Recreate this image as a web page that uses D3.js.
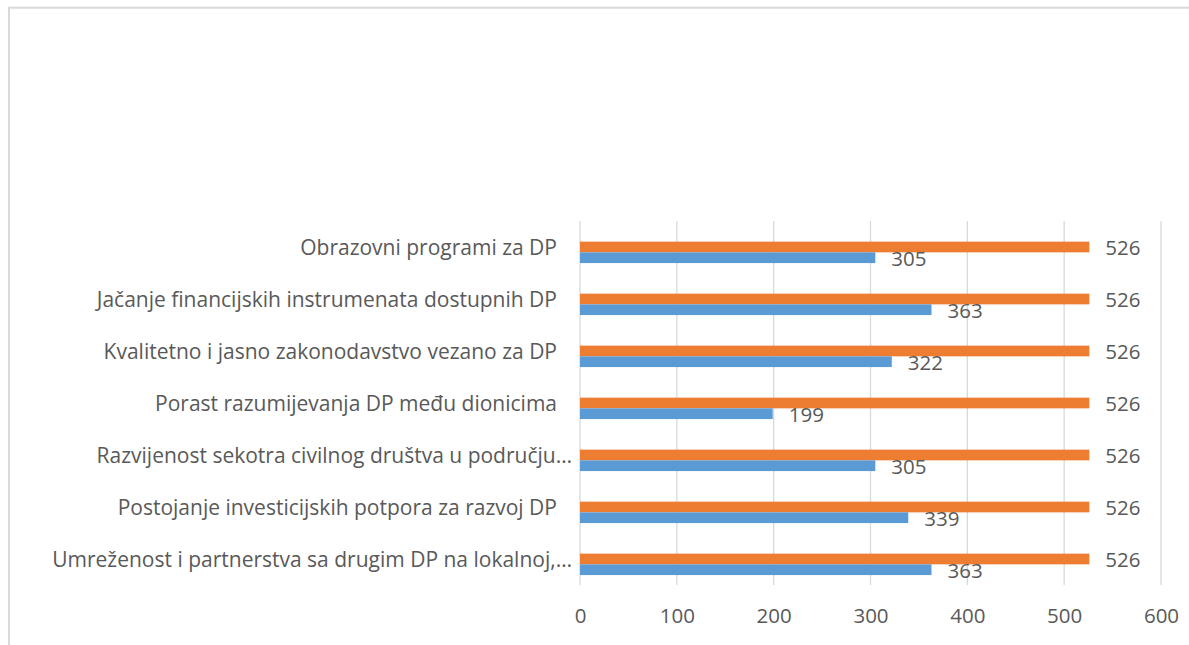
<!DOCTYPE html>
<html>
<head>
<meta charset="utf-8">
<script src="https://cdn.jsdelivr.net/npm/d3@7"></script>
<style>
  html, body { margin: 0; padding: 0; background: #fff; }
  svg { display: block; }
  text { font-family: "Open Sans", sans-serif; fill: #595959; }
</style>
</head>
<body>
<svg id="chart" width="1189" height="645"></svg>
<script>
const categories = [
  "Obrazovni programi za DP",
  "Jačanje financijskih instrumenata dostupnih DP",
  "Kvalitetno i jasno zakonodavstvo vezano za DP",
  "Porast razumijevanja DP među dionicima",
  "Razvijenost sekotra civilnog društva u području…",
  "Postojanje investicijskih potpora za razvoj DP",
  "Umreženost i partnerstva sa drugim DP na lokalnoj,…"
];
const seriesOrange = [526, 526, 526, 526, 526, 526, 526];
const seriesBlue = [305, 363, 322, 199, 305, 339, 363];
const xTicks = [0, 100, 200, 300, 400, 500, 600];

const svg = d3.select("#chart");
const W = 1189, H = 645;
const fs = 20.5;
const catFs = 21;

// outer border (chart area frame)
svg.append("rect")
  .attr("x", 9).attr("y", 7.7)
  .attr("width", W + 20).attr("height", H + 20)
  .attr("fill", "none").attr("stroke", "#d9d9d9").attr("stroke-width", 2);

const x = d3.scaleLinear().domain([0, 600]).range([580, 1161]);
const y = d3.scaleBand().domain(categories).range([221, 585]);
const bw = y.bandwidth();
const barH = bw * 0.206;

// gridlines
svg.append("g").selectAll("line").data(xTicks).join("line")
  .attr("x1", d => x(d)).attr("x2", d => x(d))
  .attr("y1", 221).attr("y2", 585)
  .attr("stroke", "#d9d9d9").attr("stroke-width", 1.3);

// x axis labels
const xAxis = d3.axisBottom(x).tickValues(xTicks).tickSize(0).tickPadding(0);
const gx = svg.append("g").attr("transform", "translate(0,623)").call(xAxis);
gx.select(".domain").remove();
gx.selectAll("text")
  .attr("y", 0).attr("dy", 0)
  .style("font-family", '"Open Sans", sans-serif')
  .style("font-size", fs + "px")
  .attr("fill", "#595959");

// category labels
const gy = svg.append("g");
gy.selectAll("text").data(categories).join("text")
  .attr("x", d => d.endsWith("…") ? 572 : 557)
  .attr("y", d => y(d) + bw / 2)
  .attr("dy", "0.36em")
  .attr("text-anchor", "end")
  .style("font-size", catFs + "px")
  .text(d => d);

const orangeData = categories.map((c, i) => ({ c, v: seriesOrange[i] }));
const blueData = categories.map((c, i) => ({ c, v: seriesBlue[i] }));

// orange bars
svg.append("g").selectAll("rect").data(orangeData).join("rect")
  .attr("x", x(0))
  .attr("y", d => y(d.c) + bw / 2 - barH / 2)
  .attr("width", d => x(d.v) - x(0))
  .attr("height", barH)
  .attr("fill", "#ED7D31");

// blue bars
svg.append("g").selectAll("rect").data(blueData).join("rect")
  .attr("x", x(0))
  .attr("y", d => y(d.c) + bw / 2 + barH / 2)
  .attr("width", d => x(d.v) - x(0))
  .attr("height", barH)
  .attr("fill", "#5B9BD5");

// value labels
svg.append("g").selectAll("text").data(orangeData).join("text")
  .attr("x", d => x(d.v) + 16)
  .attr("y", d => y(d.c) + bw / 2 + 0.8)
  .attr("dy", "0.36em")
  .style("font-size", fs + "px")
  .text(d => d.v);

svg.append("g").selectAll("text").data(blueData).join("text")
  .attr("x", d => x(d.v) + 16)
  .attr("y", d => y(d.c) + bw / 2 + barH + 0.8)
  .attr("dy", "0.36em")
  .style("font-size", fs + "px")
  .text(d => d.v);
</script>
</body>
</html>
